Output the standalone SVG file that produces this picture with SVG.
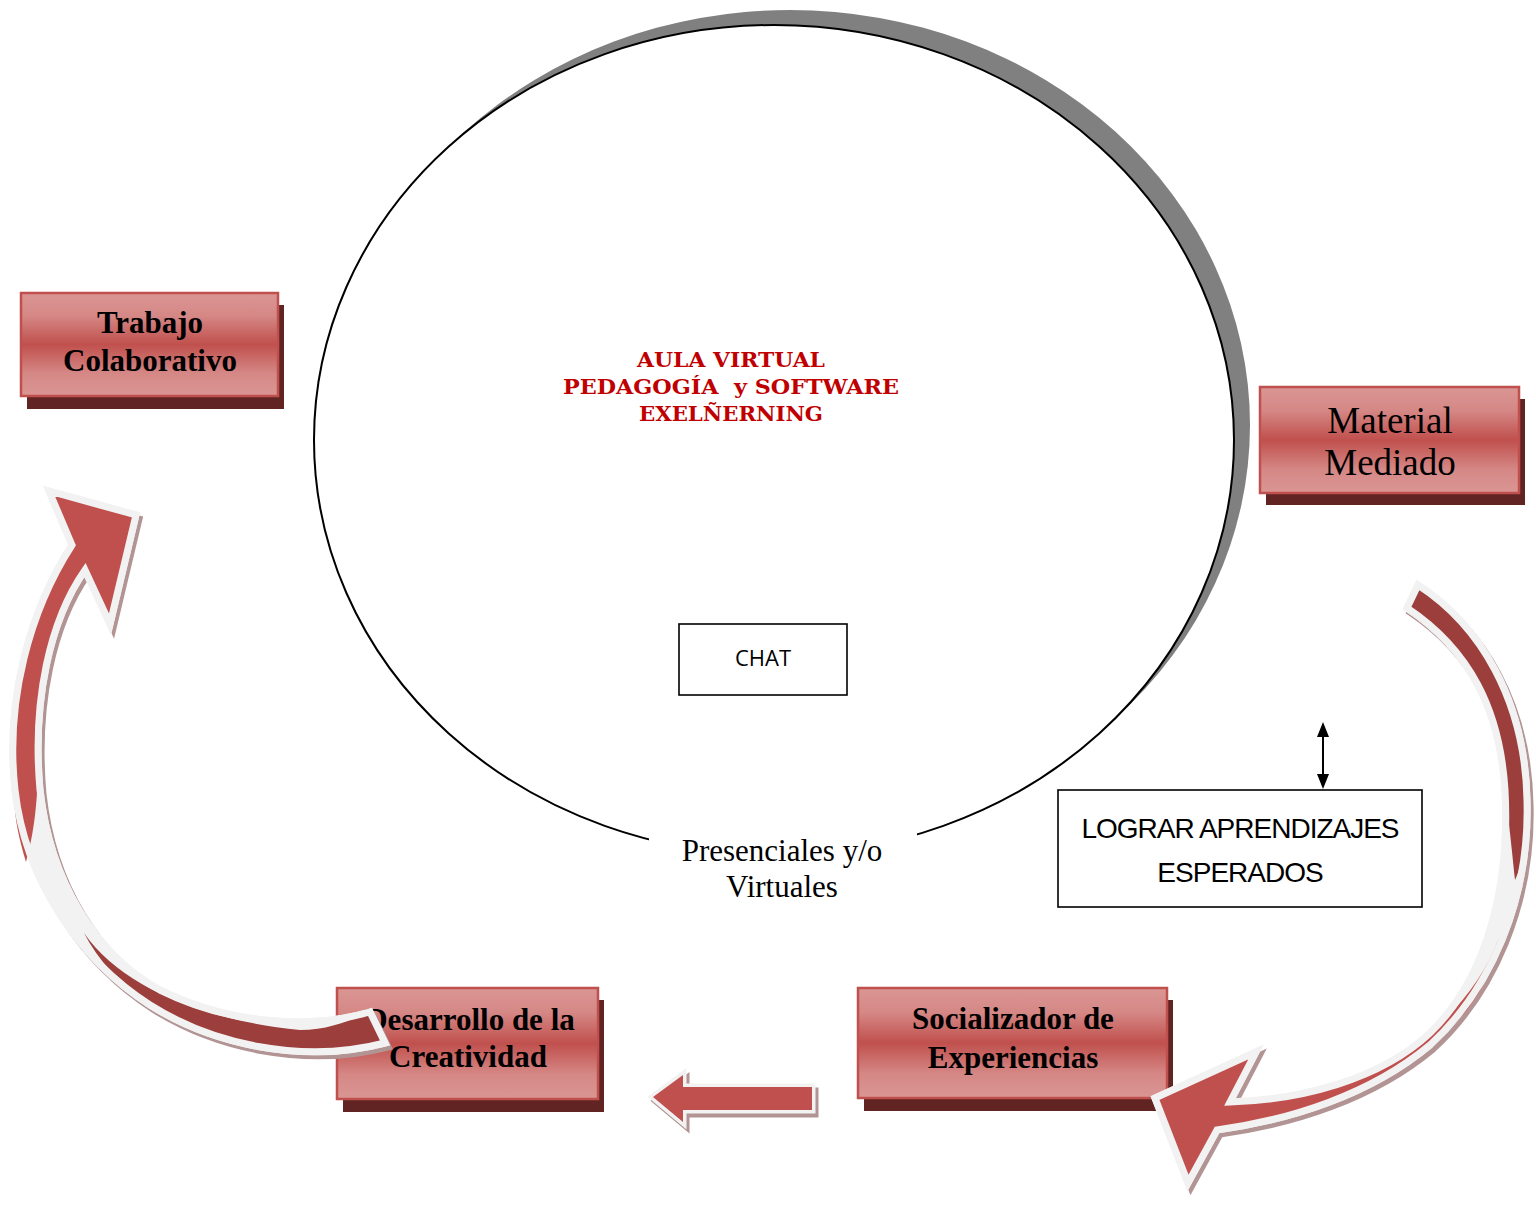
<svg xmlns="http://www.w3.org/2000/svg" width="1536" height="1206" viewBox="0 0 1536 1206">
<style>
.bx{fill:url(#boxGrad);stroke:#C0504D;stroke-width:2.5}
.bxs{fill:#622423}
.tb{font-family:"Liberation Serif","Times New Roman",serif;font-weight:bold;font-size:31px;text-anchor:middle;fill:#000}
.tn{font-family:"Liberation Serif","Times New Roman",serif;font-size:37px;text-anchor:middle;fill:#000}
.tr{font-family:"DejaVu Serif","Liberation Serif",serif;font-weight:bold;font-size:21px;text-anchor:middle;fill:#C00000;white-space:pre}
.tp{font-family:"Liberation Serif","Times New Roman",serif;font-size:31px;text-anchor:middle;fill:#000}
.ta{font-family:"Liberation Sans",Arial,sans-serif;font-size:28px;letter-spacing:-1px;text-anchor:middle;fill:#000}
.tc{font-family:"Open Sans","Noto Sans",sans-serif;font-size:22px;text-anchor:middle;fill:#000}
.plain{fill:#fff;stroke:#000;stroke-width:1.6}
.ash{fill:#B39494;stroke:#B39494;stroke-width:7;stroke-linejoin:miter}
.aw{fill:#F2F2F2;stroke:#F2F2F2;stroke-width:7;stroke-linejoin:miter}
.ao{fill:none;stroke:#F2F2F2;stroke-width:7;stroke-linejoin:miter}
.front{fill:#C0504D}
.back{fill:#9B3E3C}
</style>
<defs>
<linearGradient id="boxGrad" x1="0" y1="0" x2="0" y2="1">
<stop offset="0" stop-color="#DA9694"/>
<stop offset="0.22" stop-color="#D58886"/>
<stop offset="0.5" stop-color="#C0504D"/>
<stop offset="0.78" stop-color="#D58886"/>
<stop offset="1" stop-color="#DA9694"/>
</linearGradient>
<marker id="ah" viewBox="0 0 15 12" refX="0" refY="6" markerWidth="15" markerHeight="12" markerUnits="userSpaceOnUse" orient="auto-start-reverse">
<path d="M0,0 L15,6 L0,12 Z" fill="#000"/>
</marker>
</defs>
<rect width="1536" height="1206" fill="#fff"/>

<g id="node-aula">
<ellipse cx="790" cy="425" rx="460" ry="415" fill="#808080"/>
<ellipse cx="774" cy="440" rx="460" ry="415" fill="#fff" stroke="#000" stroke-width="2"/>
<text class="tr" x="731" y="367" textLength="188" lengthAdjust="spacingAndGlyphs">AULA VIRTUAL</text>
<text class="tr" x="731" y="394" textLength="336" lengthAdjust="spacingAndGlyphs">PEDAGOGÍA  y SOFTWARE</text>
<text class="tr" x="731" y="421" textLength="184" lengthAdjust="spacingAndGlyphs">EXELÑERNING</text>
</g>

<g id="node-presenciales">
<rect x="649" y="828" width="268" height="80" fill="#fff"/>
<text class="tp" x="782" y="861">Presenciales y/o</text>
<text class="tp" x="782" y="897">Virtuales</text>
</g>

<g id="node-chat">
<rect class="plain" x="679" y="624" width="168" height="71"/>
<text class="tc" x="763" y="666">CHAT</text>
</g>

<g id="node-trabajo">
<rect class="bxs" x="27" y="305" width="257" height="104"/>
<rect class="bx" x="21" y="293" width="257" height="103"/>
<text class="tb" x="150" y="333">Trabajo</text>
<text class="tb" x="150" y="371">Colaborativo</text>
</g>

<g id="node-material">
<rect class="bxs" x="1266" y="399" width="259" height="106"/>
<rect class="bx" x="1260" y="387" width="259" height="106"/>
<text class="tn" x="1390" y="433">Material</text>
<text class="tn" x="1390" y="475">Mediado</text>
</g>

<g id="node-desarrollo">
<rect class="bxs" x="343" y="1000" width="261" height="112"/>
<rect class="bx" x="337" y="988" width="261" height="111"/>
<text class="tb" x="470" y="1030">Desarrollo de la</text>
<text class="tb" x="468" y="1067">Creatividad</text>
</g>

<g id="node-socializador">
<rect class="bxs" x="864" y="1000" width="309" height="111"/>
<rect class="bx" x="858" y="988" width="309" height="110"/>
<text class="tb" x="1013" y="1029">Socializador de</text>
<text class="tb" x="1013" y="1068">Experiencias</text>
</g>

<g id="node-lograr">
<rect class="plain" x="1058" y="790" width="364" height="117"/>
<text class="ta" x="1240" y="838">LOGRAR APRENDIZAJES</text>
<text class="ta" x="1240" y="882">ESPERADOS</text>
</g>

<g id="connectors">
<line x1="1323" y1="737" x2="1323" y2="774" stroke="#000" stroke-width="2" marker-start="url(#ah)" marker-end="url(#ah)"/>

<g id="arrow-left">
<path class="ash" transform="translate(3,4)" d="M72,545 L49,491 L136,515 L110,624 L85,570 C50,620 32,700 40,790 C50,880 95,955 160,990 C220,1020 300,1032 370,1012 L385,1043 C300,1065 210,1043 150,1005 C80,960 25,880 15,790 C5,700 30,610 72,545 Z"/>
<path class="aw" d="M72,545 L49,491 L136,515 L110,624 L85,570 C50,620 32,700 40,790 C50,880 95,955 160,990 C220,1020 300,1032 370,1012 L385,1043 C300,1065 210,1043 150,1005 C80,960 25,880 15,790 C5,700 30,610 72,545 Z"/>
<path class="front" d="M72,545 L49,491 L136,515 L110,624 L85,570 C55,615 38,690 38,760 C38,810 32,840 26,862 C18,835 13,812 15,790 C5,700 30,610 72,545 Z"/>
<path class="back" d="M84,933 C120,985 200,1020 300,1030 C330,1030 350,1020 370,1012 L385,1043 C300,1065 210,1043 150,1005 C120,985 98,960 84,933 Z"/>
<path class="ao" d="M72,545 L49,491 L136,515 L110,624 L85,570 C50,620 32,700 40,790 C50,880 95,955 160,990 C220,1020 300,1032 370,1012 L385,1043 C300,1065 210,1043 150,1005 C80,960 25,880 15,790 C5,700 30,610 72,545 Z"/>
</g>

<g id="arrow-right">
<path class="ash" transform="translate(3,4)" d="M1407,608 L1418,585 C1480,625 1525,700 1527,800 C1530,900 1490,990 1430,1045 C1370,1095 1290,1120 1217,1130 L1188,1183 L1155,1098 L1256,1052 L1230,1102 C1300,1100 1380,1080 1430,1033 C1490,975 1510,880 1505,790 C1500,710 1470,650 1407,608 Z"/>
<path class="aw" d="M1407,608 L1418,585 C1480,625 1525,700 1527,800 C1530,900 1490,990 1430,1045 C1370,1095 1290,1120 1217,1130 L1188,1183 L1155,1098 L1256,1052 L1230,1102 C1300,1100 1380,1080 1430,1033 C1490,975 1510,880 1505,790 C1500,710 1470,650 1407,608 Z"/>
<path class="back" d="M1407,608 L1418,585 C1480,625 1525,700 1527,800 C1528,840 1522,865 1515,880 C1511,840 1508,815 1505,790 C1500,710 1470,650 1407,608 Z"/>
<path class="front" d="M1499,938 C1490,985 1465,1020 1430,1045 C1370,1095 1290,1120 1217,1130 L1188,1183 L1155,1098 L1256,1052 L1230,1102 C1300,1100 1380,1080 1430,1033 C1462,1005 1485,975 1499,938 Z"/>
<path class="ao" d="M1407,608 L1418,585 C1480,625 1525,700 1527,800 C1530,900 1490,990 1430,1045 C1370,1095 1290,1120 1217,1130 L1188,1183 L1155,1098 L1256,1052 L1230,1102 C1300,1100 1380,1080 1430,1033 C1490,975 1510,880 1505,790 C1500,710 1470,650 1407,608 Z"/>
</g>

<g id="arrow-straight">
<path class="ash" transform="translate(3,4)" d="M653,1097 L683,1075 L683,1087 L812,1087 L812,1110 L683,1110 L683,1122 Z"/>
<path class="aw" d="M653,1097 L683,1075 L683,1087 L812,1087 L812,1110 L683,1110 L683,1122 Z"/>
<path class="front" d="M653,1097 L683,1075 L683,1087 L812,1087 L812,1110 L683,1110 L683,1122 Z"/>
</g>
</g>
</svg>
